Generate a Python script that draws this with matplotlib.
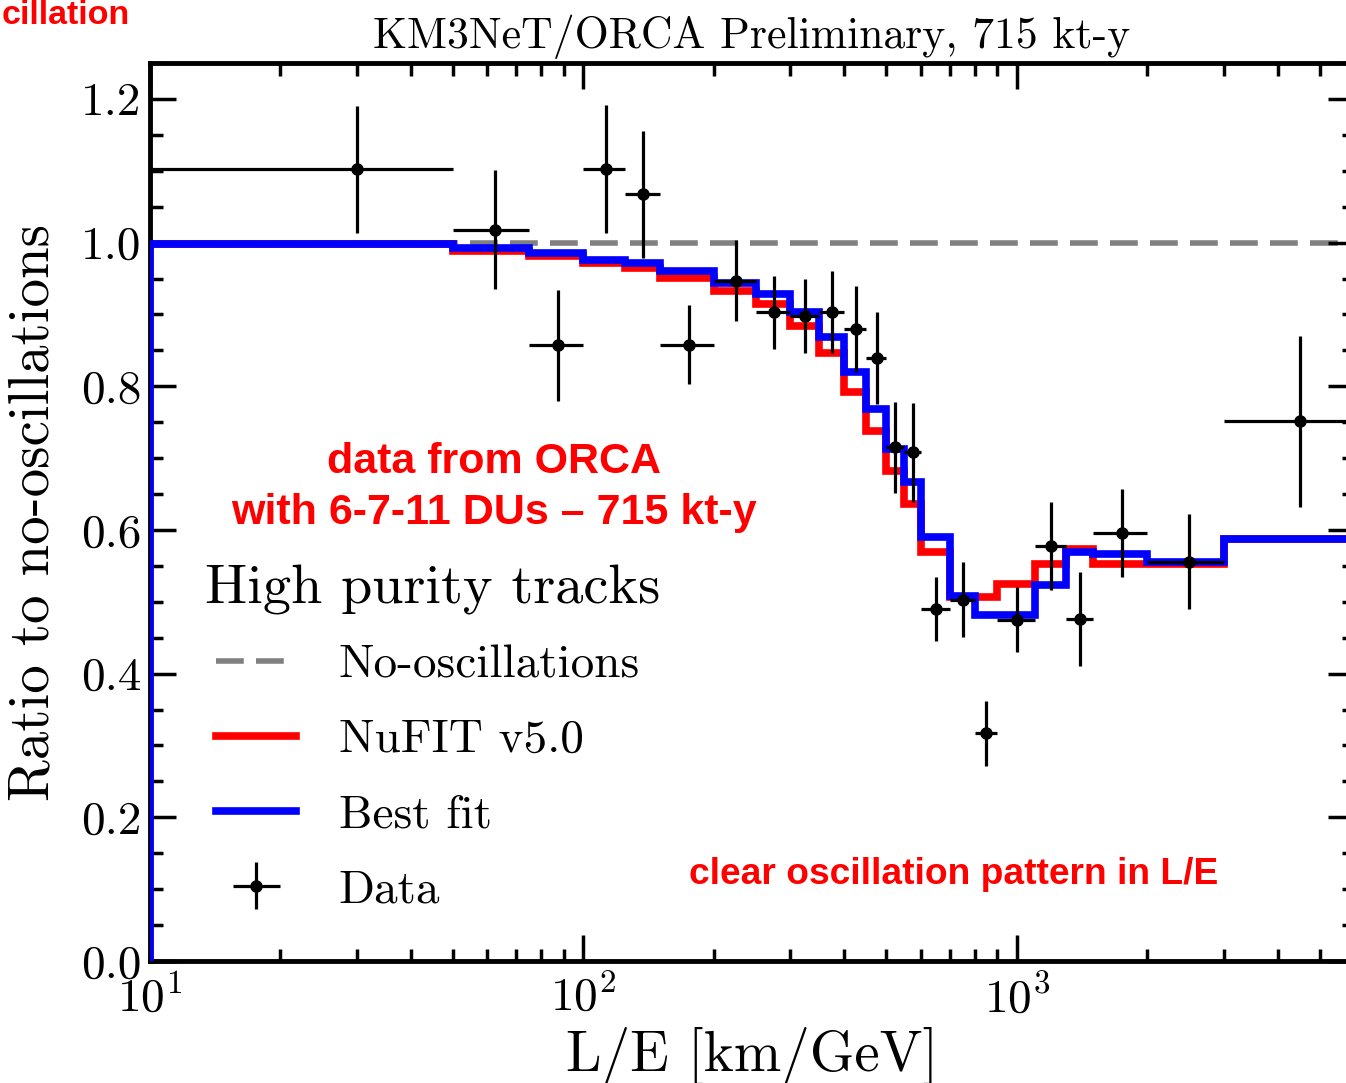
import matplotlib

matplotlib.use("Agg")
import matplotlib.pyplot as plt
import numpy as np
from matplotlib.ticker import LogLocator, MultipleLocator, NullFormatter

plt.rcParams["font.family"] = ["cmr10", "DejaVu Serif"]
plt.rcParams["mathtext.fontset"] = "cm"
plt.rcParams["axes.formatter.use_mathtext"] = True

# L/E bin edges [km/GeV]
bin_edges = [10, 50, 75, 100, 125, 150, 200, 250, 300, 350, 400, 450, 500,
             550, 600, 700, 800, 900, 1100, 1300, 1500, 2000, 3000, 6000]

# ratio to no-oscillations, per bin
nufit = [0.998, 0.988, 0.981, 0.971, 0.964, 0.951, 0.932, 0.914, 0.884, 0.847,
         0.792, 0.738, 0.682, 0.636, 0.570, 0.507, 0.506, 0.525, 0.552, 0.573,
         0.552, 0.552, 0.588]
best_fit = [0.998, 0.992, 0.985, 0.976, 0.971, 0.960, 0.944, 0.928, 0.904, 0.868,
            0.820, 0.769, 0.712, 0.667, 0.590, 0.508, 0.482, 0.482, 0.524, 0.570,
            0.567, 0.556, 0.588]
data_y = [1.102, 1.018, 0.857, 1.102, 1.067, 0.858, 0.947, 0.903, 0.898, 0.904,
          0.880, 0.840, 0.715, 0.708, 0.490, 0.503, 0.317, 0.475, 0.578, 0.476,
          0.596, 0.556, 0.751]
data_yerr = [0.088, 0.083, 0.077, 0.089, 0.088, 0.055, 0.056, 0.051, 0.052, 0.057,
             0.060, 0.064, 0.063, 0.069, 0.044, 0.052, 0.045, 0.045, 0.061, 0.066,
             0.061, 0.066, 0.119]

W, H = 1346, 1083


def main():
    edges = np.array(bin_edges, dtype=float)
    centers = 0.5 * (edges[:-1] + edges[1:])
    xerr = [centers - edges[:-1], edges[1:] - centers]

    fig = plt.figure(figsize=(W / 100, H / 100), dpi=100)
    ax = fig.add_axes([150 / W, 1 - 961 / H, (1354 - 150) / W, (961 - 63) / H])

    ax.axhline(1.0, color="#808080", lw=4, dashes=(5, 2.2), zorder=1,
               label="No-oscillations")
    ax.stairs(nufit, edges, color="#ff0000", lw=5.5, zorder=2, label="NuFIT v5.0")
    ax.stairs(best_fit, edges, color="#0000ff", lw=5.5, zorder=3, label="Best fit")
    ax.errorbar(centers, data_y, xerr=xerr, yerr=data_yerr, fmt="o", color="black",
                ms=8, elinewidth=2.3, capsize=0, zorder=4, label="Data")

    ax.set_xscale("log")
    ax.set_xlim(10, 6000)
    ax.set_ylim(0, 1.25)
    ax.yaxis.set_major_locator(MultipleLocator(0.2))
    ax.yaxis.set_minor_locator(MultipleLocator(0.05))
    ax.xaxis.set_major_locator(LogLocator(base=10))
    ax.xaxis.set_minor_locator(LogLocator(base=10, subs=np.arange(2, 10)))
    ax.xaxis.set_minor_formatter(NullFormatter())
    ax.yaxis.set_major_formatter(plt.FuncFormatter(lambda v, p: f"{v:.1f}"))

    ax.tick_params(which="both", direction="in", top=True, right=True, width=2.5,
                   labelsize=34, colors="black")
    ax.tick_params(which="major", length=19, pad=6)
    ax.tick_params(axis="x", which="major", pad=10)
    ax.tick_params(which="minor", length=9)
    for sp in ax.spines.values():
        sp.set_linewidth(3.5)

    ax.set_xlabel("L/E [km/GeV]", fontsize=41)
    ax.xaxis.set_label_coords(0.5, -0.073)
    ax.set_ylabel("Ratio to no-oscillations", fontsize=41)
    ax.yaxis.set_label_coords(-0.075, 0.5)
    ax.set_title("KM3NeT/ORCA Preliminary, 715 kt-y", fontsize=31.5, pad=11)

    # legend title drawn as plain text so the handles can sit further right
    fig.text(205 / W, 1 - 590 / H, "High purity tracks", ha="left", va="center",
             fontsize=40.5)
    handles, labels = ax.get_legend_handles_labels()
    leg = ax.legend(handles, labels, frameon=False, fontsize=34, loc="upper left",
                    bbox_to_anchor=(216 / W, 1 - 644 / H),
                    bbox_transform=fig.transFigure,
                    handlelength=1.7, handletextpad=0.9, labelspacing=0.7,
                    borderpad=0, borderaxespad=0)
    leg.set_zorder(5)

    red_font = dict(color="#ff0000", fontweight="bold",
                    family=["Liberation Sans", "DejaVu Sans"])
    fig.text(494 / W, 1 - 462 / H, "data from ORCA", ha="center", va="center",
             fontsize=31, **red_font)
    fig.text(494 / W, 1 - 513 / H, "with 6-7-11 DUs \u2013 715 kt-y", ha="center",
             va="center", fontsize=31, **red_font)
    fig.text(954 / W, 1 - 874 / H, "clear oscillation pattern in L/E", ha="center",
             va="center", fontsize=26.7, **red_font)
    fig.text(130 / W, 1 - 16 / H, "cillation", ha="right", va="center",
             fontsize=24.5, **red_font)

    fig.savefig("out.png", dpi=100)
    plt.close(fig)


if __name__ == "__main__":
    main()
